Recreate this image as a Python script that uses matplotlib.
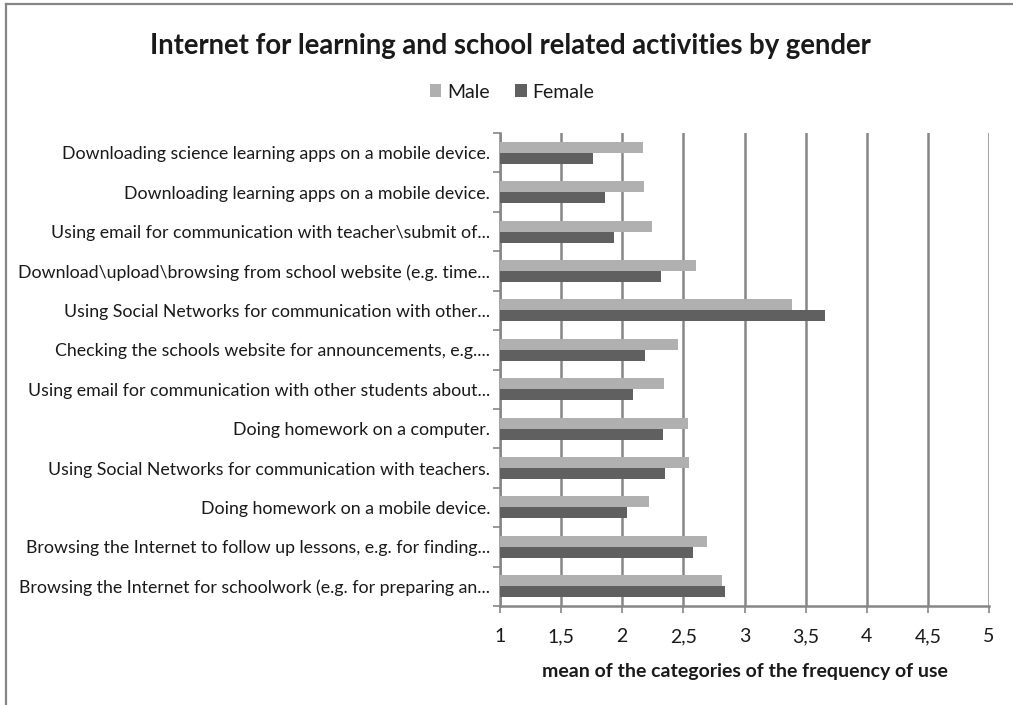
import numpy as np
from matplotlib import pyplot as plt
from matplotlib.lines import Line2D

# categories listed from top to bottom as shown in the chart
categories = [
    "Downloading science learning apps on a mobile device.",
    "Downloading learning apps on a mobile device.",
    "Using email for communication with teacher\\submit of...",
    "Download\\upload\\browsing from school website (e.g. time...",
    "Using Social Networks for communication with other...",
    "Checking the schools website for announcements, e.g....",
    "Using email for communication with other students about...",
    "Doing homework on a computer.",
    "Using Social Networks for communication with teachers.",
    "Doing homework on a mobile device.",
    "Browsing the Internet to follow up lessons, e.g. for finding...",
    "Browsing the Internet for schoolwork (e.g. for preparing an...",
]
male = [2.17, 2.18, 2.24, 2.60, 3.39, 2.46, 2.34, 2.54, 2.55, 2.22, 2.69, 2.82]
female = [1.76, 1.86, 1.93, 2.32, 3.66, 2.19, 2.09, 2.33, 2.35, 2.04, 2.58, 2.84]
x_ticks = [1, 1.5, 2, 2.5, 3, 3.5, 4, 4.5, 5]
x_tick_labels = ["1", "1,5", "2", "2,5", "3", "3,5", "4", "4,5", "5"]

plt.rcParams['font.family'] = ['Lato', 'DejaVu Sans']

W, H = 1013, 705
fig = plt.figure(figsize=(W / 100, H / 100), dpi=100)
fig.patch.set_facecolor('white')

grey = '#868686'
male_color = '#b0b0b0'
female_color = '#606060'
text_color = '#1a1a1a'

# chart border (cut off at right and bottom)
fig.add_artist(Line2D([6 / W, 6 / W], [0, 1 - 4 / H], transform=fig.transFigure,
                      color=grey, lw=1.6))
fig.add_artist(Line2D([6 / W, 1], [1 - 4 / H, 1 - 4 / H], transform=fig.transFigure,
                      color=grey, lw=1.6))

left, right, top, bottom = 500, 989, 133, 606
ax = fig.add_axes([left / W, 1 - bottom / H, (right - left) / W, (bottom - top) / H])

y = np.arange(len(categories))
h = 0.28
ax.barh(y - h / 2, male, height=h, color=male_color, label='Male', zorder=3)
ax.barh(y + h / 2, female, height=h, color=female_color, label='Female', zorder=3)

ax.set_xlim(1, 5)
ax.set_ylim(len(categories) - 0.5, -0.5)
ax.set_xticks(x_ticks)
ax.set_xticklabels(x_tick_labels, fontsize=14, color=text_color)
ax.set_yticks(y)
ax.set_yticklabels(categories, fontsize=12.8, color=text_color)
ax.tick_params(axis='y', length=0, pad=7)
ax.tick_params(axis='x', length=5, width=1.2, color=grey, pad=11)

# category boundary ticks on the y axis
ax.set_yticks(np.arange(-0.5, len(categories), 1), minor=True)
ax.tick_params(axis='y', which='minor', length=5, width=1.2, color=grey)

ax.grid(axis='x', color=grey, lw=1.8, zorder=0)
for s in ['top', 'right']:
    ax.spines[s].set_visible(False)
for s in ['left', 'bottom']:
    ax.spines[s].set_color(grey)
    ax.spines[s].set_linewidth(1.8)

ax.set_xlabel("mean of the categories of the frequency of use", fontsize=14,
              fontweight='bold', labelpad=13, color=text_color)

fig.text(510 / W, 1 - 46 / H, "Internet for learning and school related activities by gender",
         ha='center', va='center', fontsize=19.8, fontweight='bold', color=text_color)

handles, labels = ax.get_legend_handles_labels()
fig.legend(handles, labels, loc='center', bbox_to_anchor=(512 / W, 1 - 92 / H), ncol=2,
           frameon=False, fontsize=14, handlelength=0.6, handleheight=0.6,
           handletextpad=0.3, columnspacing=1.3, labelcolor=text_color)

plt.savefig('out.png', dpi=100)
